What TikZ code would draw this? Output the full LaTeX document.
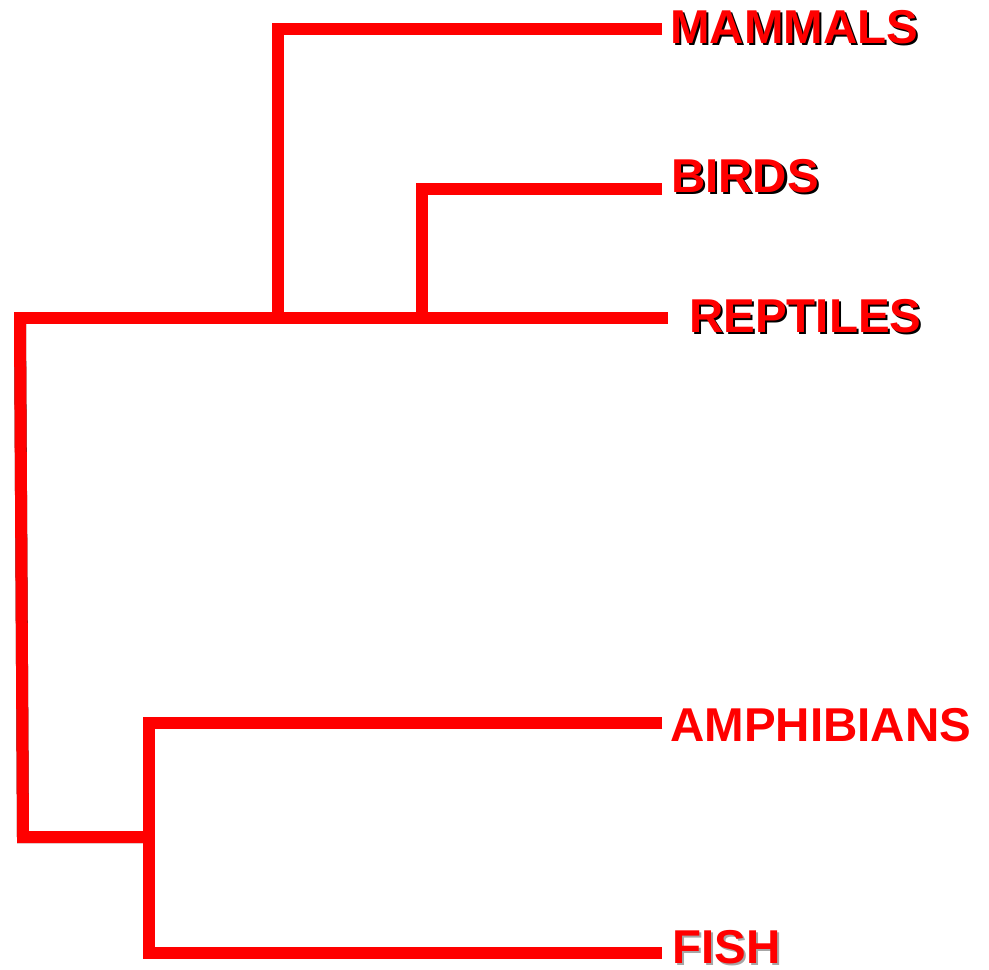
\documentclass[tikz,border=0pt]{standalone}
\usepackage{fontspec}
\setmainfont{Liberation Sans}
\newcommand\shd[2]{\makebox[0pt][l]{\hspace{2pt}\raisebox{-2pt}{\color{#1}#2}}#2}
\begin{document}
\begin{tikzpicture}[x=1pt,y=-1pt,
  branch/.style={draw=red, line width=12pt, line join=miter, line cap=butt},
  bshadow/.style={draw=black!85, line width=12pt, line join=miter, line cap=butt},
  taxon/.style={anchor=base west, inner sep=0pt, text=red, font=\fontsize{47.5}{50}\selectfont\bfseries}]
\useasboundingbox (0,0) rectangle (989,970);
% junction coordinates
\coordinate (root) at (14,318);
\coordinate (tl) at (20,318);
\coordinate (bl) at (23,837);
\coordinate (jm) at (278,318);
\coordinate (jb) at (422,318);
\coordinate (jf) at (149,837);
\coordinate (mend) at (662,29);
\coordinate (bend) at (662,189);
\coordinate (rend) at (668,318);
\coordinate (aend) at (662,723);
\coordinate (fend) at (662,953);
% labels
\node[taxon] (mammals) at (670,43) {\shd{black}{MAMMALS}};
\node[taxon] (birds) at (671,192) {\shd{black}{BIRDS}};
\node[taxon] (reptiles) at (689,332) {\shd{black}{REPTILES}};
\node[taxon] (amphibians) at (670,741) {AMPHIBIANS};
\node[taxon] (fish) at (672,963) {\shd{black!35}{FISH}};
% shadows
\begin{scope}[xshift=1.5pt,yshift=-1.5pt]
\draw[bshadow] (root) -- (rend);
\draw[bshadow] (tl) -- (bl) -- (jf);
\draw[bshadow] (jm) |- (mend);
\draw[bshadow] (jb) |- (bend);
\draw[bshadow] (aend) -| (jf) |- (fend);
\end{scope}
% branches
\draw[branch] (root) -- (rend);
\draw[branch] ([yshift=-6pt]tl) -- (bl) -- (jf);
\draw[branch] (jm) |- (mend);
\draw[branch] (jb) |- (bend);
\draw[branch] (aend) -| (jf) |- (fend);
\end{tikzpicture}
\end{document}
